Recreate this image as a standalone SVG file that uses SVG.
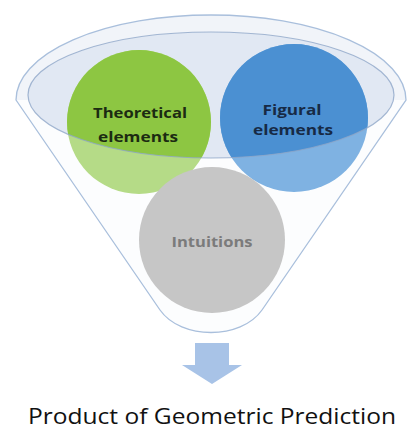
<svg xmlns="http://www.w3.org/2000/svg" width="409" height="430" viewBox="0 0 409 430">
  <defs>
    <style>
      .lbl { font-family: "Open Sans", "Liberation Sans", sans-serif; font-weight: 700; font-size: 15px; text-anchor: middle; }
      .cap { font-family: "Open Sans", "Liberation Sans", sans-serif; font-size: 22px; fill: #111111; text-anchor: middle; }
      .edge { fill: none; stroke: #a9bfdc; stroke-width: 1.3; }
    </style>
    <clipPath id="mouth">
      <ellipse cx="211" cy="95" rx="183" ry="63"/>
    </clipPath>
  </defs>
  <rect width="409" height="430" fill="#ffffff"/>

  <g id="funnel">
    <path d="M16 100 L160 310 C181 340 241 340 262 310 L406 100 A195 85 0 0 0 16 100 Z" fill="#fcfdfe"/>
    <path d="M16 100 A195 85 0 0 1 406 100 Z" fill="#f1f4f9"/>
    <path class="edge" d="M16 100 L160 310 C181 340 241 340 262 310 L406 100 A195 85 0 0 0 16 100 Z"/>
    <ellipse cx="211" cy="95" rx="183" ry="63" fill="#e1e8f3"/>
  </g>

  <g id="theoretical">
    <circle cx="139" cy="122" r="72" fill="#b5db87"/>
    <circle cx="139" cy="122" r="72" fill="#8dc642" clip-path="url(#mouth)"/>
  </g>
  <g id="figural">
    <circle cx="294" cy="118" r="74" fill="#7fb2e2"/>
    <circle cx="294" cy="118" r="74" fill="#4b90d2" clip-path="url(#mouth)"/>
  </g>
  <g id="intuitions">
    <circle cx="212" cy="240" r="73" fill="#c6c6c6"/>
    <text class="lbl" x="212" y="247" fill="#7b7b7b" textLength="81" lengthAdjust="spacingAndGlyphs">Intuitions</text>
  </g>

  <ellipse cx="211" cy="95" rx="183" ry="63" fill="none" stroke="#8fa6c8" stroke-width="1.2" stroke-opacity="0.8"/>

  <g id="labels">
    <text class="lbl" x="140" y="118" fill="#1c2b12" textLength="94" lengthAdjust="spacingAndGlyphs">Theoretical</text>
    <text class="lbl" x="138" y="142" fill="#1c2b12" textLength="80" lengthAdjust="spacingAndGlyphs">elements</text>
    <text class="lbl" x="292" y="115" fill="#172a45" textLength="59" lengthAdjust="spacingAndGlyphs">Figural</text>
    <text class="lbl" x="293" y="135" fill="#172a45" textLength="80" lengthAdjust="spacingAndGlyphs">elements</text>
  </g>

  <g id="connectors">
    <polygon points="195,343 229,343 229,365 242,365 212,384 182,365 195,365" fill="#a8c3e7"/>
  </g>

  <g id="caption">
    <text class="cap" x="212" y="424" textLength="368" lengthAdjust="spacingAndGlyphs">Product of Geometric Prediction</text>
  </g>
</svg>
